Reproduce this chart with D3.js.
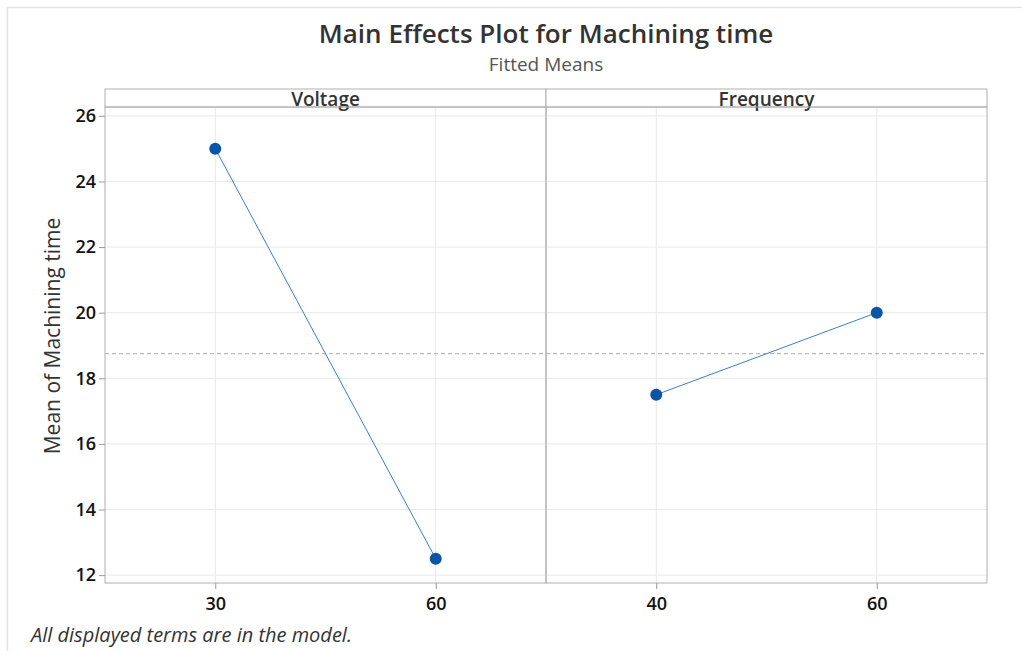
<!DOCTYPE html>
<html>
<head>
<meta charset="utf-8">
<script src="https://cdn.jsdelivr.net/npm/d3@7"></script>
<style>
  body { margin: 0; background: #fff; }
  text { font-family: "Open Sans", "Noto Sans", sans-serif; }
</style>
</head>
<body>
<div id="chart"></div>
<script>
// data
const factors = ["Voltage", "Frequency"];
const voltageLevels = ["30", "60"];
const voltageMeans = [25, 12.5];
const frequencyLevels = ["40", "60"];
const frequencyMeans = [17.5, 20];
const overallMean = 18.75;
const yTicks = [12, 14, 16, 18, 20, 22, 24, 26];

const levels = [voltageLevels, frequencyLevels];
const means = [voltageMeans, frequencyMeans];

const width = 1022,
      height = 651,
      margin = ({ top: 107, right: 35, bottom: 68, left: 105 }),
      stripH = 18;

let svg = d3.select("#chart")
    .append("svg")
    .attr("width", width)
    .attr("height", height);

// outer frame
svg.append("path")
    .attr("d", `M7.5,${height}V7.5H${width}`)
    .attr("fill", "none")
    .attr("stroke", "#e2e2e2")
    .attr("stroke-width", 1.5);

let y = d3.scaleLinear()
    .domain([11.76, 26.27])
    .range([height - margin.bottom, margin.top]);

let panel = d3.scaleBand()
    .domain(factors)
    .range([margin.left, width - margin.right]);

// y axis
svg.append("g")
    .attr("transform", `translate(${margin.left},0)`)
    .call(d3.axisLeft(y).tickValues(yTicks).tickSize(6).tickPadding(3))
    .call(g => g.select(".domain").remove())
    .call(g => g.selectAll("line").attr("stroke", "#999"))
    .call(g => g.selectAll("text")
        .attr("font-size", 18).attr("font-weight", 600).attr("fill", "#111"));

factors.forEach((f, i) => {
    let x0 = panel(f), w = panel.bandwidth();
    let x = d3.scalePoint()
        .domain(levels[i])
        .range([x0, x0 + w])
        .padding(0.5);

    let g = svg.append("g");

    // grid
    g.selectAll(".hgrid")
        .data(yTicks)
        .join("line")
        .attr("x1", x0).attr("x2", x0 + w)
        .attr("y1", d => y(d)).attr("y2", d => y(d))
        .attr("stroke", "#e8e8e8");
    g.selectAll(".vgrid")
        .data(levels[i])
        .join("line")
        .attr("x1", d => x(d)).attr("x2", d => x(d))
        .attr("y1", margin.top).attr("y2", height - margin.bottom)
        .attr("stroke", "#e8e8e8");

    // x axis
    g.append("g")
        .attr("transform", `translate(0,${height - margin.bottom})`)
        .call(d3.axisBottom(x).tickSize(6).tickPadding(8))
        .call(a => a.select(".domain").remove())
        .call(a => a.selectAll("line").attr("stroke", "#999"))
        .call(a => a.selectAll("text")
            .attr("font-size", 18).attr("font-weight", 600).attr("fill", "#111"));

    // reference line
    g.append("line")
        .attr("x1", x0).attr("x2", x0 + w)
        .attr("y1", y(overallMean)).attr("y2", y(overallMean))
        .attr("stroke", "#aaa")
        .attr("stroke-dasharray", "4,3");

    let pts = levels[i].map((l, j) => ({ l: l, v: means[i][j] }));

    g.append("path")
        .datum(pts)
        .attr("fill", "none")
        .attr("stroke", "#3c7fcc")
        .attr("stroke-width", 1)
        .attr("d", d3.line().x(d => x(d.l)).y(d => y(d.v)));

    g.selectAll("circle")
        .data(pts)
        .join("circle")
        .attr("cx", d => x(d.l))
        .attr("cy", d => y(d.v))
        .attr("r", 6)
        .attr("fill", "#0a55a8");

    // strip header
    g.append("rect")
        .attr("x", x0).attr("y", margin.top - stripH)
        .attr("width", w).attr("height", stripH)
        .attr("fill", "#fff")
        .attr("stroke", "#b0b0b0");
    g.append("text")
        .attr("x", x0 + w / 2)
        .attr("y", margin.top - 1)
        .attr("text-anchor", "middle")
        .attr("font-size", 19)
        .attr("font-weight", 600)
        .attr("fill", "#333")
        .text(f);

    // panel box
    g.append("rect")
        .attr("x", x0).attr("y", margin.top)
        .attr("width", w).attr("height", height - margin.bottom - margin.top)
        .attr("fill", "none")
        .attr("stroke", "#b0b0b0");
});

// titles
svg.append("text")
    .attr("x", 546).attr("y", 43)
    .attr("text-anchor", "middle")
    .attr("font-size", 26).attr("font-weight", 600).attr("fill", "#333")
    .text("Main Effects Plot for Machining time");

svg.append("text")
    .attr("x", 546).attr("y", 71)
    .attr("text-anchor", "middle")
    .attr("font-size", 19).attr("fill", "#555")
    .text("Fitted Means");

svg.append("text")
    .attr("transform", "translate(60,336) rotate(-90)")
    .attr("text-anchor", "middle")
    .attr("font-size", 21).attr("fill", "#333")
    .text("Mean of Machining time");

svg.append("text")
    .attr("x", 31).attr("y", 642)
    .attr("font-size", 20).attr("font-style", "italic").attr("fill", "#333")
    .text("All displayed terms are in the model.");
</script>
</body>
</html>
